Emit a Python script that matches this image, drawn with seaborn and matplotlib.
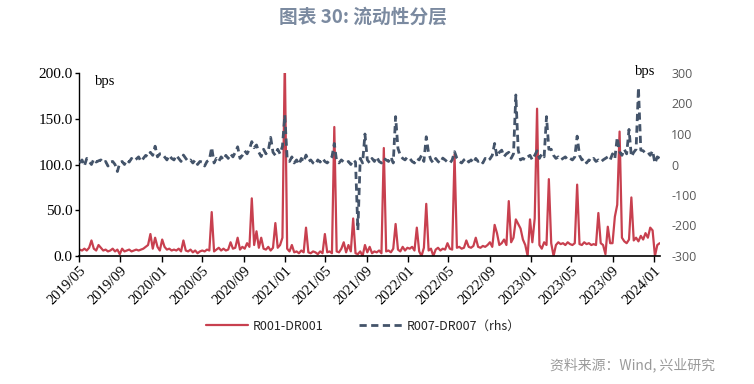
import matplotlib
matplotlib.use("Agg")
import matplotlib.pyplot as plt
import matplotlib.dates as mdates
import seaborn as sns
import pandas as pd

sns.set_theme(style="white")
plt.rcParams['font.family'] = ['Noto Sans CJK SC', 'DejaVu Sans']
plt.rcParams['axes.unicode_minus'] = False

# ---------------- data (weekly, Fridays) ----------------
year_starts = ["2019-05-03", "2020-01-03", "2021-01-01", "2022-01-07", "2023-01-06", "2024-01-05"]

r001_2019 = [7, 6, 8, 6, 9, 17, 8, 6, 12, 9, 6, 7, 5, 6, 8, 5, 7, 2, 8, 5, 6, 7,
             5, 6, 7, 6, 7, 8, 10, 12, 24, 8, 20, 10, 6]
r001_2020 = [18, 10, 7, 8, 6, 7, 6, 8, 5, 17, 6, 5, 7, 4, 6, 3, 5, 6, 5, 7, 6, 48,
             5, 7, 9, 6, 8, 6, 7, 15, 8, 9, 20, 7, 10, 8, 14, 10, 63, 12, 27, 9, 20, 8,
             7, 10, 6, 9, 36, 9, 12, 20]
r001_2021 = [215, 8, 5, 12, 4, 5, 3, 6, 4, 31, 4, 3, 5, 4, 2, 5, 3, 24, 4, 5, 3, 141,
             5, 4, 8, 15, 4, 12, 5, 41, 3, 2, 5, 0, 12, 4, 10, 3, 5, 4, 6, 3, 118, 5,
             6, 4, 8, 35, 7, 5, 10, 6, 9]
r001_2022 = [8, 10, 6, 31, 5, 0, 9, 57, 6, 8, 0, 7, 9, 6, 8, 7, 14, 8, 7, 111, 9,
             10, 8, 9, 17, 10, 9, 11, 20, 10, 9, 11, 10, 12, 15, 10, 34, 25, 12,
             14, 18, 12, 60, 15, 20, 40, 35, 30, 18, 12, 0, 40]
r001_2023 = [15, 41, 161, 12, 8, 15, 12, 84, 14, 0, 12, 15, 13, 14, 12, 15, 13,
             12, 14, 78, 13, 12, 15, 13, 14, 12, 13, 12, 47, 14, 12, 2, 32, 14,
             14, 43, 56, 136, 20, 16, 14, 18, 64, 17, 20, 16, 22, 18, 25, 20, 31, 28]
r001_2024 = [0, 12, 14]

r007_2019 = [5, 15, -5, 20, 10, 0, 18, 8, 12, 15, 5, 10, -5, 8, 10, 0, -23, 5,
             10, 0, 15, 8, 20, 12, 18, 25, 10, 20, 30, 25, 40, 30, 60, 25, 35]
r007_2020 = [35, 25, 15, 30, 20, 15, 30, 20, 10, 31, 20, 10, 15, 5, 15, 0, 10,
             8, -5, 10, 15, 56, 5, 20, 10, 25, 15, 30, 20, 35, 25, 40, 58, 20, 30,
             45, 35, 50, 75, 55, 64, 40, 26, 50, 35, 45, 89, 40, 30, 50, 35, 60]
r007_2021 = [162, 20, 10, 25, 5, 15, 0, 20, 8, 31, 10, 15, 5, 0, 15, 8, 20, 10,
             5, 15, 25, 69, 10, 5, 15, 8, 5, 10, 0, 15, 8, -215, 20, 5, 100,
             15, 5, 20, 10, 25, 10, 5, 20, 15, 10, 25, 5, 157, 53, 30, 20, 15, 25]
r007_2022 = [20, 10, 5, 20, 15, 30, 10, 91, 37, 15, 5, 20, 10, 5, 21, 15, 8,
             4, 15, 42, 20, 10, 5, 15, 21, 8, 15, 5, 20, 10, 15, 5, 20, 12,
             18, 30, 69, 25, 40, 47, 26, 35, 40, 20, 35, 228, 47, 15, 20, 15, 25, 30]
r007_2023 = [15, 30, 45, 20, 35, 25, 157, 50, 50, 30, 20, 25, 15, 20, 25, 15, 20,
             15, 25, 93, 30, 15, 20, 5, 15, 10, 20, 10, 15, 8, 15, 20, 25, 15,
             35, 20, 89, 42, 30, 50, 35, 115, 26, 40, 50, 252, 47, 45, 37, 40, 30, 45]
r007_2024 = [4, 25, 20]

r001_years = [r001_2019, r001_2020, r001_2021, r001_2022, r001_2023, r001_2024]
r007_years = [r007_2019, r007_2020, r007_2021, r007_2022, r007_2023, r007_2024]

tick_dates = pd.date_range("2019-05-01", "2024-01-01", freq="4MS")

frames = []
for start, a, b in zip(year_starts, r001_years, r007_years):
    n = min(len(a), len(b))
    d = pd.date_range(start, periods=n, freq="W-FRI")
    frames.append(pd.DataFrame({"date": d, "r001": a[:n], "r007": b[:n]}))
df = pd.concat(frames, ignore_index=True)

RED = "#c8404f"
BLUE = "#44546a"
SERIF = "Liberation Serif"

fig = plt.figure(figsize=(7.54, 3.84), dpi=100)
ax = fig.add_axes([79 / 754, 1 - 256 / 384, (660 - 79) / 754, (256 - 73) / 384])

sns.lineplot(data=df, x="date", y="r001", ax=ax, color=RED, linewidth=1.6,
             estimator=None, label="R001-DR001", legend=False)
ax2 = ax.twinx()
sns.lineplot(data=df, x="date", y="r007", ax=ax2, color=BLUE, linewidth=2.0,
             estimator=None, label="R007-DR007（rhs）", legend=False)
ax2.lines[0].set_linestyle((0, (2.6, 1.6)))

ax.set_xlim(pd.Timestamp("2019-05-01"), pd.Timestamp("2024-01-20"))
ax.set_ylim(0, 200)
ax2.set_ylim(-300, 300)
ax.set_yticks([0, 50, 100, 150, 200])
ax.set_yticklabels([f"{v:.1f}" for v in [0, 50, 100, 150, 200]])
ax2.set_yticks([-300, -200, -100, 0, 100, 200, 300])

ax.set_xticks(tick_dates)
ax.xaxis.set_major_formatter(mdates.DateFormatter("%Y/%m"))
for lab in ax.get_xticklabels():
    lab.set_rotation(45)
    lab.set_ha("right")
    lab.set_rotation_mode("anchor")
    lab.set_family(SERIF)
    lab.set_fontsize(10.5)
for lab in ax.get_yticklabels():
    lab.set_family(SERIF)
    lab.set_fontsize(11)
for lab in ax2.get_yticklabels():
    lab.set_family("Open Sans")
    lab.set_fontsize(9)
    lab.set_color("#595959")

ax.set_xlabel("")
ax.set_ylabel("")
ax2.set_ylabel("")

for a in (ax, ax2):
    a.grid(False)
    a.spines["top"].set_visible(False)
    a.spines["right"].set_visible(False)
    a.patch.set_visible(False)
ax2.spines["left"].set_visible(False)
ax2.spines["bottom"].set_visible(False)
ax.spines["left"].set_color("black")
ax.spines["bottom"].set_color("black")
ax.spines["left"].set_linewidth(1.0)
ax.spines["bottom"].set_linewidth(1.2)

ax.tick_params(axis="y", which="both", left=True, direction="out", length=3,
               width=1, color="black", pad=1.5, labelcolor="black")
ax.tick_params(axis="x", which="both", bottom=True, direction="out", length=4,
               width=1, color="black", pad=2, labelcolor="black")
ax2.tick_params(axis="y", right=True, length=0, pad=8)

fig.text(95 / 754, 1 - 82 / 384, "bps", family=SERIF, fontsize=10.5,
         ha="left", va="center", color="black")
fig.text(655 / 754, 1 - 72 / 384, "bps", family=SERIF, fontsize=10.5,
         ha="right", va="center", color="black")

fig.text(0.481, 1 - 17 / 384, "图表 30: 流动性分层", ha="center", va="center",
         fontsize=13.5, fontweight="bold", color="#7b8aa0",
         family=["Noto Sans CJK SC", "DejaVu Sans"])
fig.text(715 / 754, 1 - 365 / 384, "资料来源：Wind, 兴业研究", ha="right",
         va="center", fontsize=10, color="#9a9a9a",
         family=["Noto Sans CJK SC", "DejaVu Sans"])

handles = [ax.lines[0], ax2.lines[0]]
labels = ["R001-DR001", "R007-DR007（rhs）"]
fig.legend(handles, labels, loc="center", bbox_to_anchor=(363 / 754, 1 - 326 / 384),
           ncol=2, frameon=False, handlelength=3.4, handletextpad=0.4,
           columnspacing=2.8, prop={"family": ["Noto Sans CJK SC", "DejaVu Sans"], "size": 9})

fig.savefig("out.png", dpi=100)
